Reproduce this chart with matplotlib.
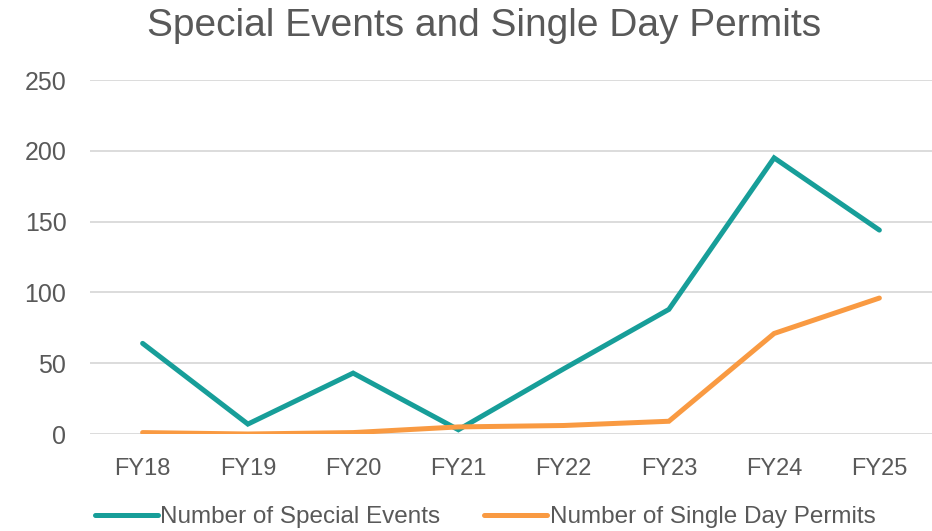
import matplotlib.pyplot as plt

years = ["FY18", "FY19", "FY20", "FY21", "FY22", "FY23", "FY24", "FY25"]
special_events = [64, 7, 43, 3, 46, 88, 195, 144]
single_day = [1, 0, 1, 5, 6, 9, 71, 96]

plt.rcParams['font.family'] = ['Liberation Sans', 'DejaVu Sans']
txt = "#595959"

fig = plt.figure(figsize=(9.32, 5.31), dpi=100)
ax = fig.add_axes([90 / 932, 1 - 434 / 531, 842 / 932, 354 / 531])

x = range(len(years))
ax.plot(x, special_events, color="#179E99", lw=3.6, label="Number of Special Events",
        solid_capstyle="round", solid_joinstyle="miter")
ax.plot(x, single_day, color="#F99A42", lw=3.6, label="Number of Single Day Permits",
        solid_capstyle="round", solid_joinstyle="miter")

ax.set_xlim(-0.5, len(years) - 0.5)
ax.set_ylim(0, 250)
ax.set_yticks([0, 50, 100, 150, 200, 250])
ax.set_xticks(list(x))
ax.set_xticklabels(years)
ax.yaxis.grid(True, color="#D9D9D9", lw=1.3)
ax.set_axisbelow(True)
for s in ax.spines.values():
    s.set_visible(False)
ax.tick_params(length=0, labelsize=17, colors=txt, pad=17)
ax.tick_params(axis="y", labelsize=18, pad=17)

fig.text(484 / 932, 1 - 26 / 531, "Special Events and Single Day Permits", ha="center", va="center",
         fontsize=28, color=txt)

leg = fig.legend(loc="center", bbox_to_anchor=(485 / 932, 1 - 517 / 531), ncol=2, frameon=False,
                 fontsize=17.5, handlelength=2.6, handletextpad=0.1, columnspacing=1.8)
for t in leg.get_texts():
    t.set_color(txt)

fig.savefig("out.png", dpi=100)
